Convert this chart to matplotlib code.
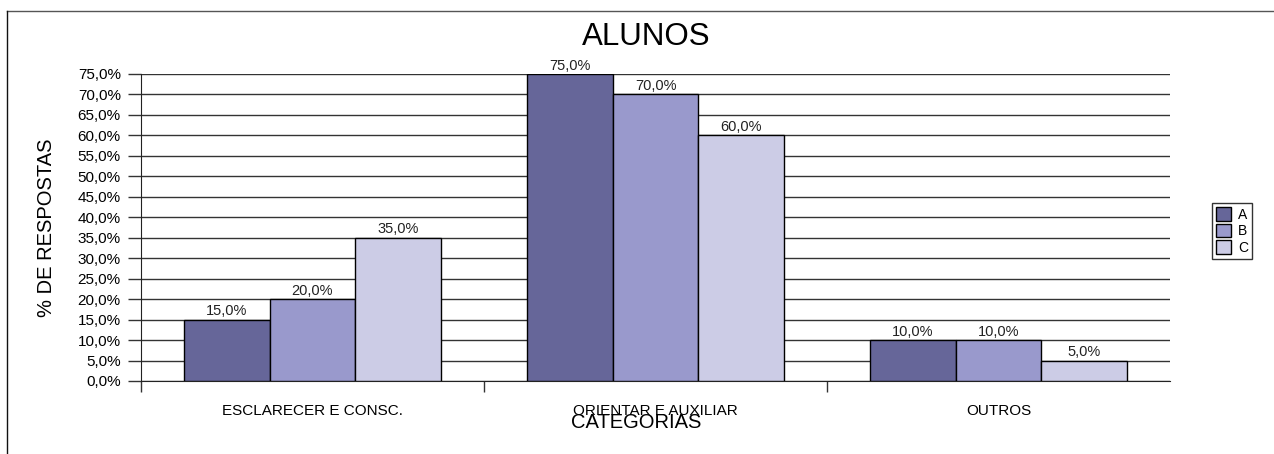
import matplotlib
matplotlib.use("Agg")
import matplotlib.pyplot as plt
import numpy as np
from matplotlib.lines import Line2D
from matplotlib.ticker import FixedLocator, FuncFormatter

plt.rcParams["font.family"] = ["Liberation Sans", "DejaVu Sans"]

categories = ["ESCLARECER E CONSC.", "ORIENTAR E AUXILIAR", "OUTROS"]
series_names = ["A", "B", "C"]
series_values = [
    [15.0, 75.0, 10.0],  # A
    [20.0, 70.0, 10.0],  # B
    [35.0, 60.0, 5.0],   # C
]
yticks = np.arange(0, 80, 5)

colors = ["#666699", "#9999CC", "#CCCCE6"]


def pct(v, _pos=None):
    return f"{v:.1f}%".replace(".", ",")


fig = plt.figure(figsize=(12.74, 4.54), dpi=100)
ax = fig.add_axes([141 / 1274, 1 - 381 / 454, 1029 / 1274, 307 / 454])

x = np.arange(len(categories))
width = 0.25
for k, (name, vals) in enumerate(zip(series_names, series_values)):
    bars = ax.bar(x + (k - 1) * width, vals, width, color=colors[k],
                  edgecolor="black", linewidth=1.0, label=name, zorder=3)
    ax.bar_label(bars, labels=[pct(v) for v in vals], padding=1,
                 fontsize=10.5, color="#222222")

ax.set_xlim(-0.5, len(categories) - 0.5)
ax.set_ylim(0, yticks[-1])
ax.set_yticks(yticks)
ax.yaxis.set_major_formatter(FuncFormatter(pct))
ax.grid(axis="y", color="#333333", linewidth=1.0, zorder=0)
ax.tick_params(axis="y", length=9.5, width=1.0, color="#333333",
               pad=5, labelsize=11)

ax.set_xticks(x)
ax.set_xticklabels(categories, fontsize=11)
# group separators below the axis (none at the far right end)
ax.xaxis.set_minor_locator(FixedLocator(np.arange(-0.5, len(categories) - 1, 1.0)))
ax.tick_params(axis="x", which="major", length=0, pad=16.5)
ax.tick_params(axis="x", which="minor", length=8, width=1.0, color="#333333")

for side in ["top", "right"]:
    ax.spines[side].set_visible(False)
ax.spines["left"].set_color("#222222")
ax.spines["bottom"].set_color("#222222")

ax.set_ylabel("% DE RESPOSTAS", fontsize=14.5, labelpad=16)
fig.text(636 / 1274, 1 - 422 / 454, "CATEGORIAS", fontsize=14.5,
         ha="center", va="center")
fig.text(646 / 1274, 1 - 37 / 454, "ALUNOS", fontsize=22.5,
         ha="center", va="center")

leg = fig.legend(loc="center", bbox_to_anchor=(1232 / 1274, 1 - 231 / 454),
                 fontsize=10, frameon=True, fancybox=False,
                 handlelength=1.1, handleheight=1.1, handletextpad=0.5,
                 borderpad=0.3, labelspacing=0.15, borderaxespad=0)
leg.get_frame().set_edgecolor("black")
leg.get_frame().set_linewidth(1.0)

# outer chart border (top and left edges)
fig.add_artist(Line2D([7 / 1274, 1.0], [1 - 11 / 454, 1 - 11 / 454],
                      color="#555555", linewidth=1.0, transform=fig.transFigure))
fig.add_artist(Line2D([7 / 1274, 7 / 1274], [0.0, 1 - 11 / 454],
                      color="#111111", linewidth=1.0, transform=fig.transFigure))

fig.savefig("out.png", dpi=100)
